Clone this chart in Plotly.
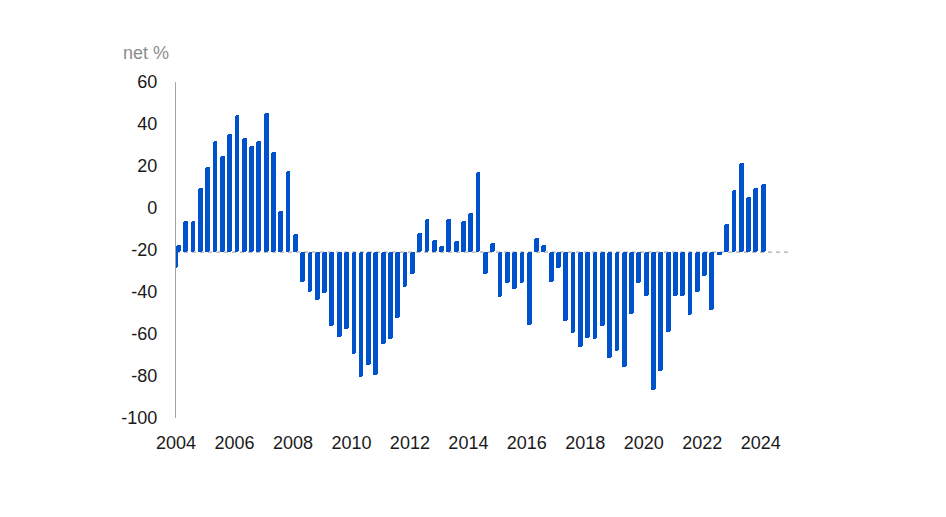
import plotly.graph_objects as go

# --------------------------
# Data: quarterly net balance (%), bars hang from a baseline
# --------------------------
baseline = -21

dates = ["2004-01-01"] + [f"{y}-{m:02d}-01" for y in range(2004, 2025) for m in (2, 5, 8, 11)][:81]

net_pct = [
    -28.6, -17.6, -6.0, -6.0, 9.4, 19.4, 32.1, 24.9, 35.1, 44.3,
    33.2, 29.4, 32.1, 45.4, 26.5, -1.6, 17.8, -12.5, -35.1, -39.9,
    -43.8, -40.6, -56.0, -61.6, -57.6, -69.7, -80.3, -74.8, -79.5, -64.9,
    -62.4, -52.5, -37.8, -31.6, -11.8, -5.1, -15.2, -18.0, -5.1, -15.9,
    -6.0, -2.5, 17.3, -31.4, -16.8, -42.2, -35.9, -38.7, -35.6, -55.7,
    -14.1, -17.8, -35.1, -28.8, -54.0, -59.7, -66.0, -61.8, -62.5, -56.0,
    -71.6, -68.0, -75.9, -50.6, -35.9, -41.7, -86.8, -77.8, -58.9, -41.7,
    -41.7, -50.8, -39.8, -32.6, -48.6, -22.5, -7.6, 8.6, 21.3, 5.1,
    9.4, 11.4,
]

year_ticks = [f"{y}-01-01" for y in range(2004, 2025, 2)]
year_labels = [str(y) for y in range(2004, 2025, 2)]

y_ticks = list(range(-100, 61, 20))
y_labels = [str(v) for v in y_ticks]  # plain hyphen minus, as in the source

# --------------------------
# Figure
# --------------------------
fig = go.Figure()

fig.add_trace(go.Bar(
    x=dates,
    y=[v - baseline for v in net_pct],
    base=baseline,
    width=60 * 86400000,
    marker=dict(color="#0052cc", line=dict(width=0), cornerradius=2),
    hoverinfo="skip",
))

# dashed baseline
fig.add_shape(type="line", xref="paper", x0=0, x1=1, yref="y", y0=baseline, y1=baseline,
              line=dict(color="#ababab", width=1.3, dash="4px,4px"), layer="below")

fig.add_annotation(text="net %", xref="paper", yref="paper", x=0, y=1,
                   xanchor="right", yanchor="bottom", xshift=-5, yshift=17,
                   showarrow=False, font=dict(size=18, color="#8c8c8c"))

fig.update_layout(
    width=946, height=517,
    margin=dict(l=168, r=164, t=74, b=107),
    paper_bgcolor="white", plot_bgcolor="white",
    showlegend=False,
    font=dict(family="Liberation Sans, Arial, sans-serif", size=18, color="#1a1a1a"),
    bargap=0,
)

fig.update_xaxes(
    type="date",
    range=["2004-01-01", "2025-01-01"],
    tickvals=year_ticks, ticktext=year_labels,
    showgrid=False, zeroline=False, showline=False,
    ticks="", ticklabelstandoff=12,
)

fig.update_yaxes(
    range=[-100, 60],
    tickvals=y_ticks, ticktext=y_labels,
    showgrid=False, zeroline=False,
    showline=True, linecolor="#a6a6a6", linewidth=1.3,
    ticks="", ticklabelstandoff=14,
)

fig.write_html("out.html")
